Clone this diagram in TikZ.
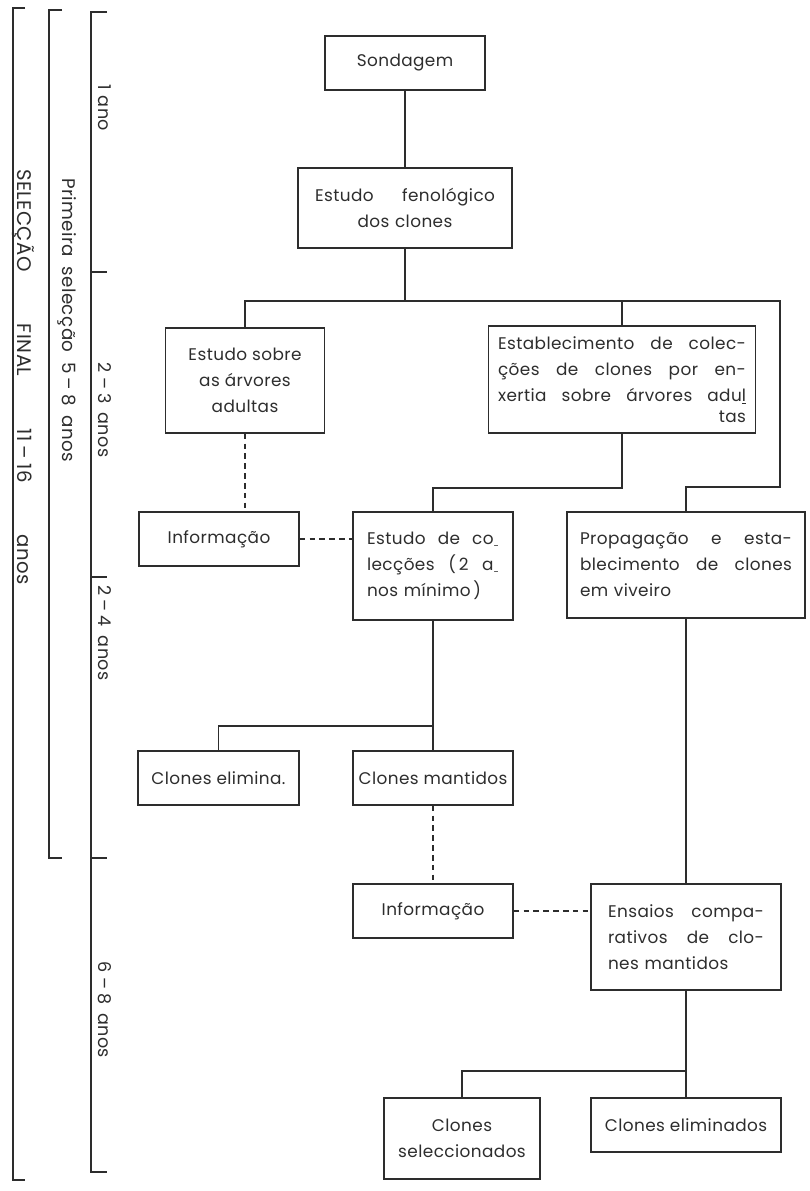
\documentclass[tikz,border=0pt]{standalone}
\usepackage{fontspec}
\setmainfont{Poppins}[LetterSpace=2.5]
\usetikzlibrary{positioning,calc}

\definecolor{ScanInk}{RGB}{45,45,45}

% a line spread to a given width: words are split by \hfill
\newcommand{\jline}[2]{\makebox[#1][l]{#2}}
\newcommand{\lowhy}{\raisebox{-0.5ex}{\scriptsize-}}

\begin{document}
\begin{tikzpicture}[
    x=0.25mm, y=-0.25mm,
    box/.style={rectangle, draw=ScanInk, line width=1.1pt, inner sep=0pt,
                text=ScanInk, font=\fontsize{12}{18.5}\selectfont},
    size/.style 2 args={minimum width=#1*0.25mm, minimum height=#2*0.25mm},
    link/.style={draw=ScanInk, line width=1.1pt},
    infolink/.style={link, dash pattern=on 4pt off 3pt},
    yearlbl/.style={rotate=-90, text=ScanInk, font=\fontsize{12.5}{14}\selectfont},
    phaselbl/.style={yearlbl, font=\fontsize{13}{15}\selectfont}
]

\useasboundingbox (0,0) rectangle (810,1191);

% time brackets on the left
\draw[link] (25,8) -- (13,8) -- (13,1180) -- (25,1180);
\draw[link] (62,10) -- (49,10) -- (49,858) -- (62,858);
\draw[link] (107,12) -- (91,12) -- (91,1172) -- (107,1172);
\foreach \y in {272,577,858}
    \draw[link] (91,\y) -- (107,\y);

\node[yearlbl] (yr1) at (105,108) {1 ano};
\node[yearlbl] (yr2) at (105,410) {2\kern3pt–\kern3pt3\enspace anos};
\node[yearlbl] (yr3) at (105,633) {2\kern3pt–\kern3pt4\enspace anos};
\node[yearlbl] (yr4) at (105,1010) {6\kern3pt–\kern3pt8\enspace anos};
\node[phaselbl] (firstsel) at (67,320)
    {\makebox[71mm][s]{Primeira selecção 5\kern3pt–\kern3pt8 anos}};
\node[phaselbl, font=\fontsize{14}{16}\selectfont] (finalsel) at (23,377)
    {\makebox[104mm][s]{SELECÇÃO FINAL 11\kern3pt–\kern3pt16 anos}};

% boxes
\node[box, size={160}{54}] (sond) at (405,63) {Sondagem};
\node[box, size={214}{80}, text width=45mm, align=center] (feno) at (405,208)
    {\jline{45mm}{Estudo\hfill fenológico}\\dos clones};

\node[box, size={159}{105}, align=center] (sobre) at (245,380.5)
    {Estudo sobre\\as árvores\\adultas};
\node[box, size={267}{107}, text width=62mm, align=left] (estab) at (622,379.5)
    {\jline{62mm}{Establecimento\hfill de\hfill colec-}\\
     \jline{62mm}{ções\hfill de\hfill clones\hfill por\hfill en-}\\
     \jline{62mm}{xertia\hfill sobre\hfill árvores\hfill adu\underline{l}}\\[-4pt]
     \hspace*{\fill}tas};

\node[box, size={160}{54}] (info1) at (219,539) {Informação};
\node[box, size={160}{108}, text width=33mm, align=left] (colec) at (433,566)
    {\jline{33mm}{Estudo\hfill de\hfill co\lowhy}\\
     \jline{33mm}{lecções\hfill (\,2\hfill a\lowhy}\\nos mínimo\,)};
\node[box, size={238}{106}, text width=53mm, align=left] (prop) at (686,565)
    {\jline{53mm}{Propagação\hfill e\hfill esta-}\\
     \jline{53mm}{blecimento\hfill de\hfill clones}\\em viveiro};

\node[box, size={161}{54}] (elim) at (218.5,778) {Clones elimina.};
\node[box, size={160}{54}] (mant) at (433,778) {Clones mantidos};
\node[box, size={160}{54}] (info2) at (433,911) {Informação};
\node[box, size={190}{106}, text width=39mm, align=left] (ensaios) at (686,937)
    {\jline{39mm}{Ensaios\hfill compa-}\\
     \jline{39mm}{rativos\hfill de\hfill clo-}\\nes mantidos};

\node[box, size={156}{81}, align=center] (sel) at (462,1138.5) {Clones\\seleccionados};
\node[box, size={190}{54}] (elim2) at (686,1125) {Clones eliminados};

% connectors
\coordinate (bus) at (405,301);
\coordinate (rbend) at (780,487);
\draw[link] (sond) -- (feno);
\draw[link] (feno) -- (bus);
\draw[link] (sobre.north) |- (bus) -| (estab.north);
\draw[link] (estab.north |- bus) -| (rbend) -| (prop.north);
\draw[link] (estab.south) -- ++(0,54) -| (colec.north);
\draw[infolink] (sobre.south) -- (sobre.south |- info1.north);
\draw[infolink] (info1.east) -- (info1.east -| colec.west);
\draw[link] (colec) -- (mant);
\draw[link] (colec.south) -- ++(0,105) -| (elim.north);
\draw[infolink] (mant) -- (info2);
\draw[infolink] (info2.east) -- (info2.east -| ensaios.west);
\draw[link] (prop) -- (ensaios);
\draw[link] (ensaios) -- (elim2);
\draw[link] (ensaios.south) -- ++(0,80) -| (sel.north);

\end{tikzpicture}
\end{document}
